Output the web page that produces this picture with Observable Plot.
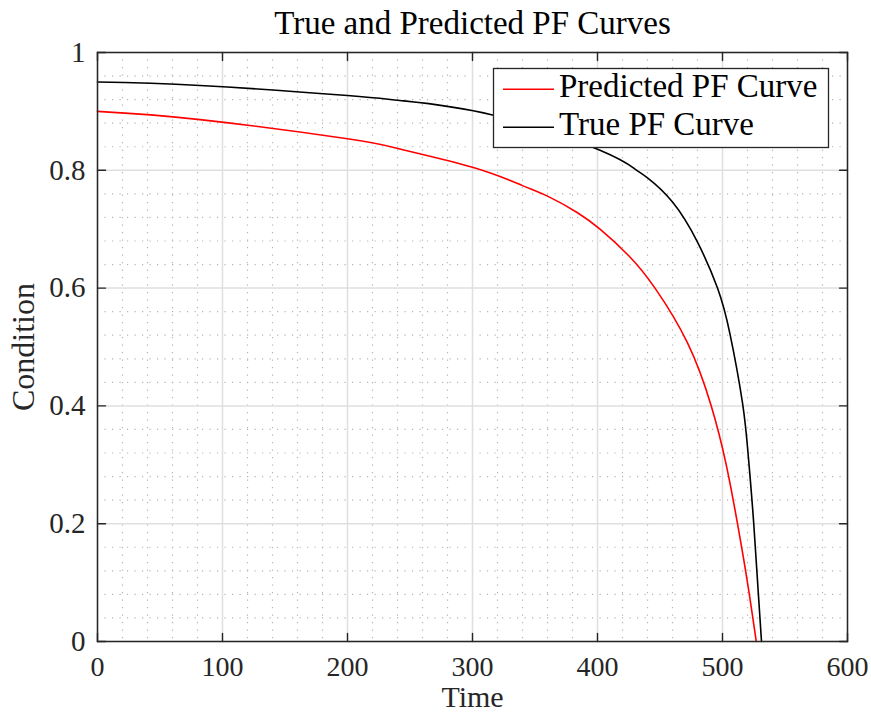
<!DOCTYPE html>
<html>
<head>
<meta charset="utf-8">
<script src="https://cdn.jsdelivr.net/npm/d3@7"></script>
<script src="https://cdn.jsdelivr.net/npm/@observablehq/plot@0.6"></script>
<style>
  body { margin: 0; background: #fff; }
  #chart { width: 871px; height: 714px; }
</style>
</head>
<body>
<div id="chart"></div>
<script>
// ---- data ----
const titleText = "True and Predicted PF Curves";
const xLabel = "Time";
const yLabel = "Condition";
const seriesNames = ["Predicted PF Curve", "True PF Curve"];
const seriesColors = ["#ff0000", "#000000"];

const xTicks = [0, 100, 200, 300, 400, 500, 600];
const yTicks = [0, 0.2, 0.4, 0.6, 0.8, 1];
const yTickLabels = ["0", "0.2", "0.4", "0.6", "0.8", "1"];

// Predicted PF curve (red)
const predT = [0, 82, 200, 242, 300, 340, 362, 384, 402, 425, 446, 472, 491, 503, 512, 520, 527];
const predY = [0.900, 0.886, 0.8535, 0.836, 0.805, 0.774, 0.754, 0.728, 0.700, 0.655, 0.600, 0.507, 0.400, 0.300, 0.200, 0.100, 0.0];

// True PF curve (black)
const trueT = [0, 82, 200, 242, 316, 402, 430, 440, 460, 480, 496, 506, 516, 520.5, 525, 531.2];
const trueY = [0.950, 0.944, 0.927, 0.9185, 0.894, 0.834, 0.802, 0.787, 0.746, 0.678, 0.600, 0.522, 0.405, 0.318, 0.200, 0.0];

// ---- build tables ----
const pred = predT.map((t, i) => ({t, v: predY[i]}));
const truth = trueT.map((t, i) => ({t, v: trueY[i]}));
const xMinor = d3.range(0, 31).map(i => i * 20).filter((d, i) => i % 5 !== 0);
const yMinor = d3.range(0, 26).map(i => i * 0.04).filter((d, i) => i % 5 !== 0);

const axisColor = "#262626";
const font = "'Liberation Serif', 'Times New Roman', serif";
const tickShape = {draw(ctx, l) { ctx.moveTo(0, 0); ctx.lineTo(0, -l); }};
const tickLen = 8;
const tickStyle = {length: tickLen, anchor: "start", shape: tickShape, stroke: axisColor, strokeWidth: 1.4};

const chart = Plot.plot({
  width: 871,
  height: 714,
  marginLeft: 97,
  marginRight: 24,
  marginTop: 52,
  marginBottom: 73,
  style: {fontFamily: font, fontSize: "29px", color: axisColor, background: "#fff", overflow: "visible"},
  x: {domain: [0, 600]},
  y: {domain: [0, 1]},
  marks: [
    // minor grid (dotted)
    Plot.ruleX(xMinor, {x: d => d, stroke: "#b4b4b4", strokeWidth: 1.2, strokeDasharray: "1.2,6.3"}),
    Plot.ruleY(yMinor, {y: d => d, stroke: "#b4b4b4", strokeWidth: 1.2, strokeDasharray: "1.2,6.3"}),
    // major grid
    Plot.ruleX(xTicks, {x: d => d, stroke: "#dfdfdf", strokeWidth: 1.5}),
    Plot.ruleY(yTicks, {y: d => d, stroke: "#dfdfdf", strokeWidth: 1.5}),
    // curves
    Plot.line(pred, {x: "t", y: "v", stroke: seriesColors[0], strokeWidth: 1.6, curve: "natural"}),
    Plot.line(truth, {x: "t", y: "v", stroke: seriesColors[1], strokeWidth: 1.6, curve: "natural"}),
    // box
    Plot.frame({stroke: axisColor, strokeWidth: 1.5}),
    // inward ticks on all four sides
    Plot.vector(xTicks, {x: d => d, frameAnchor: "bottom", rotate: 0, ...tickStyle}),
    Plot.vector(xTicks, {x: d => d, frameAnchor: "top", rotate: 180, ...tickStyle}),
    Plot.vector(yTicks, {y: d => d, frameAnchor: "left", rotate: 90, ...tickStyle}),
    Plot.vector(yTicks, {y: d => d, frameAnchor: "right", rotate: -90, ...tickStyle}),
    // tick labels
    Plot.axisX(xTicks, {tickSize: 0, tickPadding: 15, label: null, tickFormat: d => String(d), fill: axisColor, fontSize: 28}),
    Plot.axisY(yTicks, {tickSize: 0, tickPadding: 12, label: null, tickFormat: d => yTickLabels[yTicks.indexOf(d)], fill: axisColor, fontSize: 29}),
    // title and axis labels
    Plot.text([titleText], {text: d => d, frameAnchor: "top", dy: -29, fontSize: 33, fill: "#000", textAnchor: "middle", lineAnchor: "middle"}),
    Plot.text([xLabel], {text: d => d, frameAnchor: "bottom", dy: 56, fontSize: 30, fill: axisColor, textAnchor: "middle", lineAnchor: "middle"}),
    Plot.text([yLabel], {text: d => d, frameAnchor: "left", dx: -74, rotate: -90, fontSize: 32, fill: axisColor, textAnchor: "middle", lineAnchor: "middle"})
  ]
});

// legend box (drawn inside the plot svg)
const svg = d3.select(chart);
const lg = svg.append("g").attr("class", "legend").attr("font-family", font).attr("font-size", 33).attr("text-anchor", "start");
lg.append("rect").attr("x", 493.5).attr("y", 68.5).attr("width", 335).attr("height", 79)
  .attr("fill", "#fff").attr("stroke", axisColor).attr("stroke-width", 1.3);
const rowLine = [89.3, 127.3];
const rowBase = [97, 134.5];
seriesNames.forEach((name, i) => {
  lg.append("line").attr("x1", 503).attr("x2", 554).attr("y1", rowLine[i]).attr("y2", rowLine[i])
    .attr("stroke", seriesColors[i]).attr("stroke-width", 1.6);
  lg.append("text").attr("x", 559).attr("y", rowBase[i]).attr("text-anchor", "start").attr("fill", "#000").text(name);
});

document.getElementById("chart").appendChild(chart);
</script>
</body>
</html>
